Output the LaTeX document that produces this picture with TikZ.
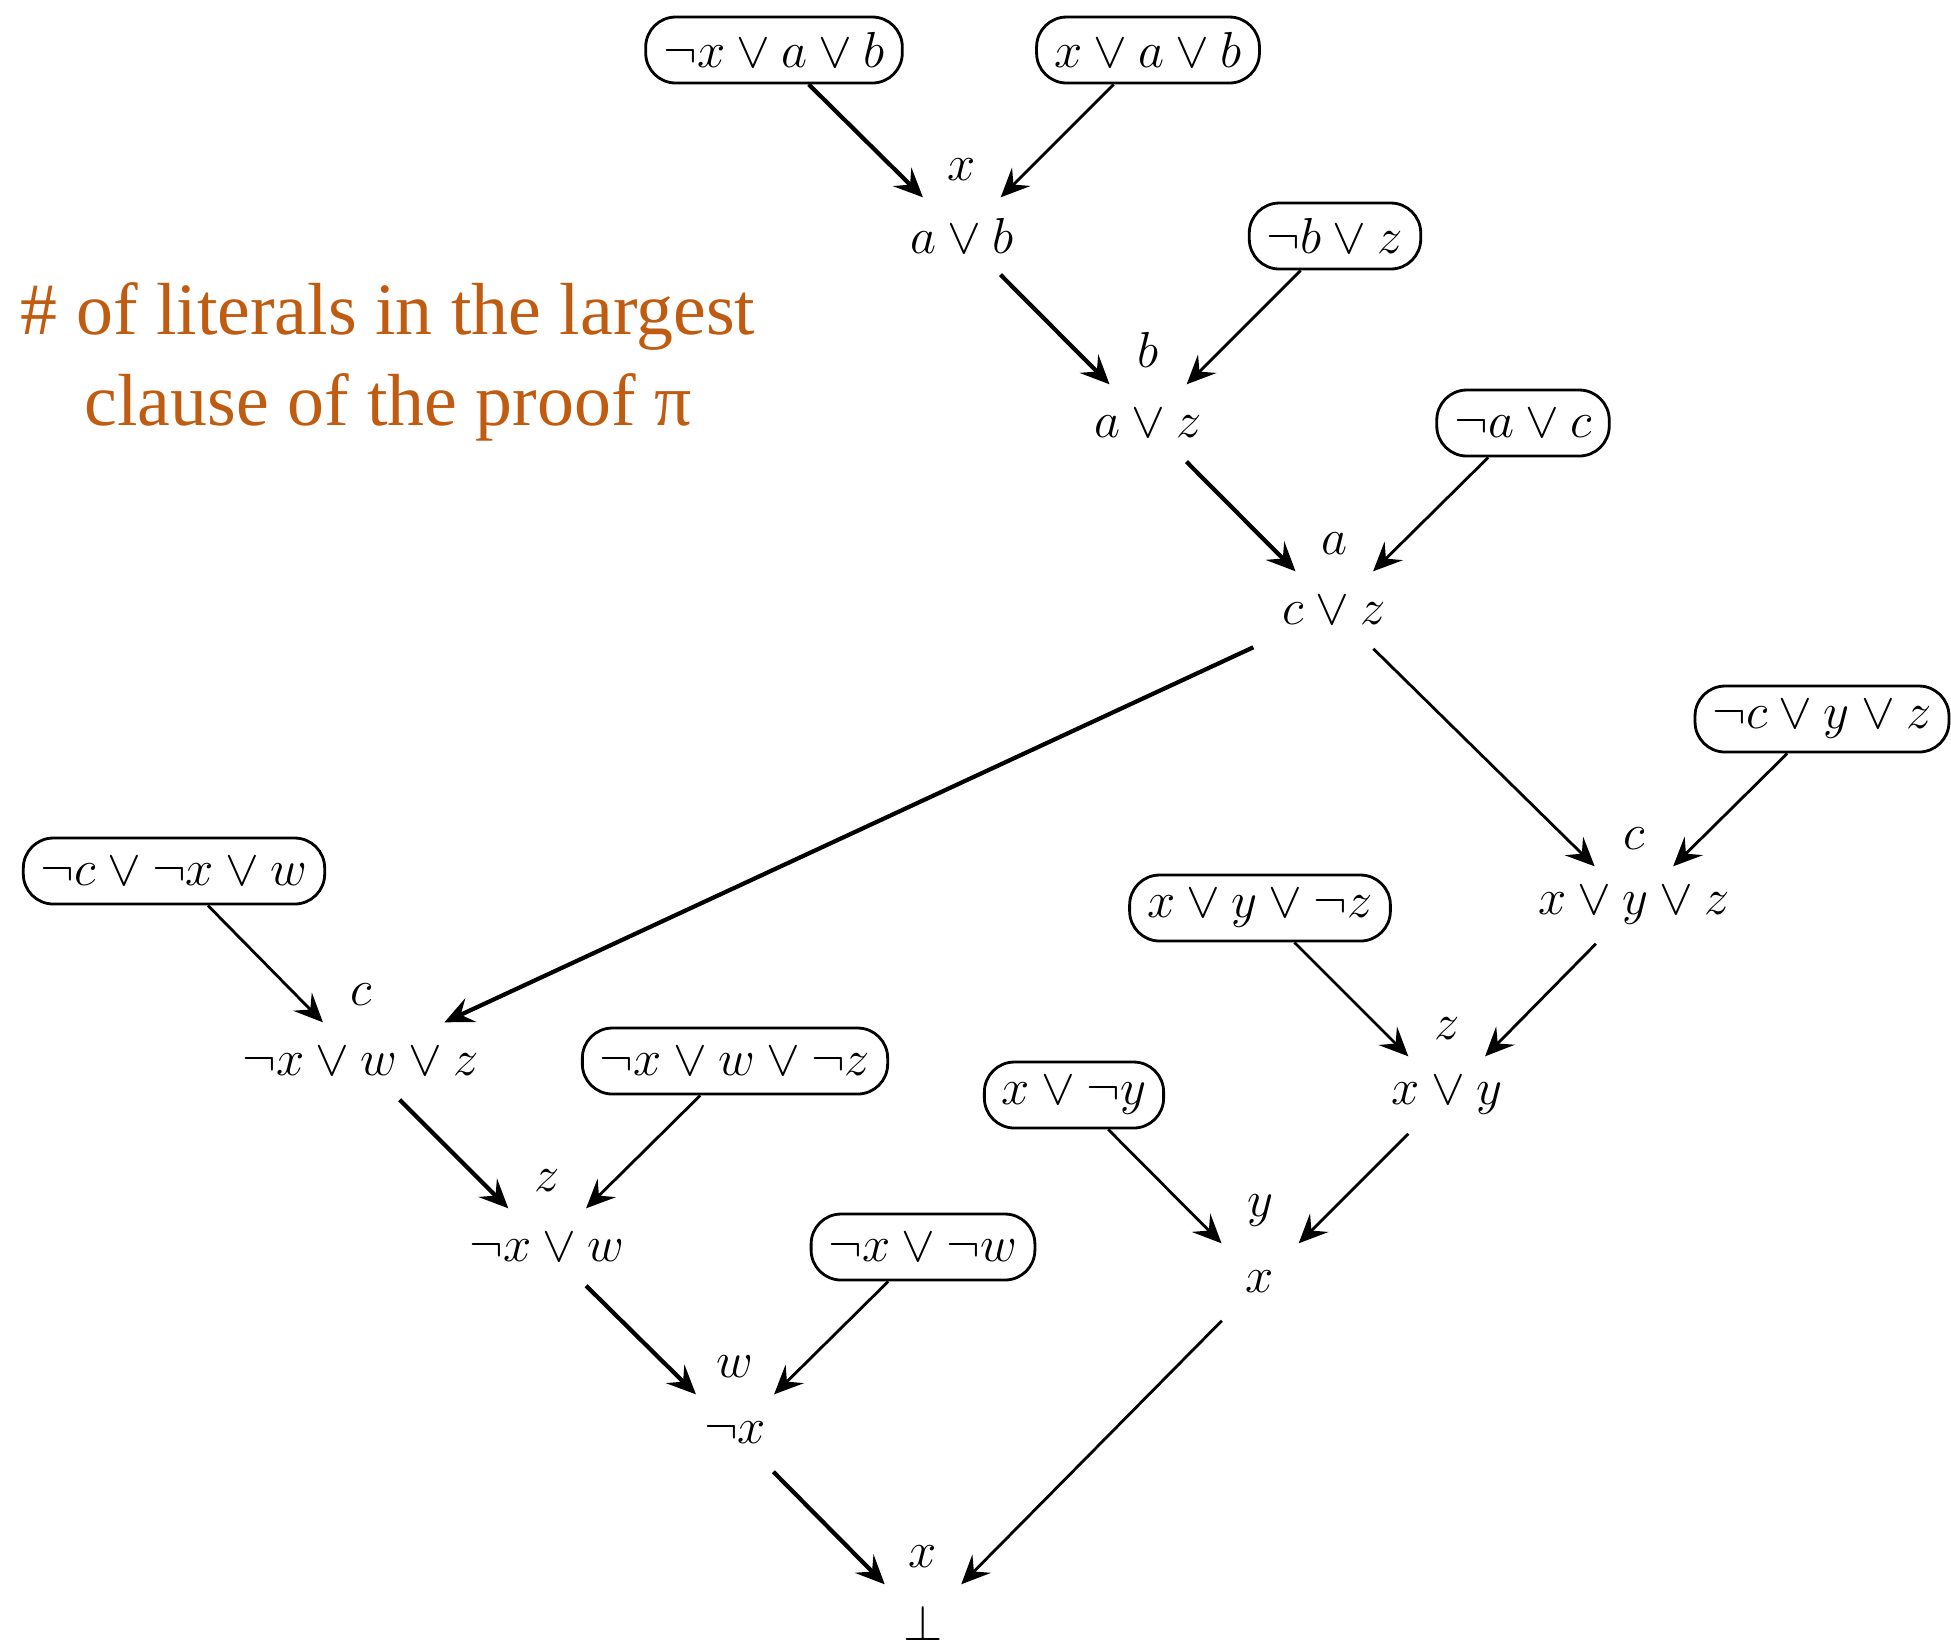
\documentclass[tikz,border=0pt]{standalone}
\usepackage{amsmath,amssymb}
\usepackage{fontspec}
\newfontfamily\notefont{Liberation Serif}
\usetikzlibrary{arrows.meta}
\definecolor{rust}{RGB}{192,92,18}

\begin{document}
\begin{tikzpicture}[
    font=\fontsize{15.4}{18}\selectfont,
    cl/.style={draw,rounded corners=3mm,line width=.8pt,minimum height=6.6mm,inner xsep=5pt},
    rs/.style={minimum width=16mm,minimum height=7.6mm,inner sep=0pt},
    pv/.style={inner sep=0pt,label distance=1.6mm},
    e/.style={-{Stealth[length=2.9mm,width=2.6mm,inset=1.1mm]},line width=.8pt},
    eb/.style={e,line width=1.2pt}
  ]
    \useasboundingbox (0,0) rectangle (19.51,-16.41);
    % input clauses (boxed) and resolvents with their pivot on top
    \node[cl] (c1) at (7.74,-0.50) {$\neg x\lor a\lor b$};
    \node[cl] (c2) at (11.48,-0.50) {$x\lor a\lor b$};
    \node[rs,label={[pv]above:$x$}] (r1) at (9.62,-2.36) {$a\lor b$};
    \node[cl] (c3) at (13.35,-2.36) {$\neg b\lor z$};
    \node[rs,label={[pv]above:$b$}] (r2) at (11.48,-4.23) {$a\lor z$};
    \node[cl] (c4) at (15.23,-4.23) {$\neg a\lor c$};
    \node[rs,label={[pv]above:$a$}] (r3) at (13.34,-6.10) {$c\lor z$};
    \node[cl] (c5) at (18.22,-7.19) {$\neg c\lor y\lor z$};
    \node[rs,label={[pv]above:$c$}] (r4) at (16.34,-9.05) {$x\lor y\lor z$};
    \node[cl] (c6) at (12.60,-9.08) {$x\lor y\lor\neg z$};
    \node[rs,label={[pv]above:$z$}] (r5) at (14.47,-10.95) {$x\lor y$};
    \node[cl] (c7) at (1.74,-8.71) {$\neg c\lor\neg x\lor w$};
    \node[rs,label={[pv]above:$c$}] (r6) at (3.61,-10.61) {$\neg x\lor w\lor z$};
    \node[cl] (c8) at (7.35,-10.61) {$\neg x\lor w\lor\neg z$};
    \node[rs,label={[pv]above:$z$}] (r7) at (5.47,-12.47) {$\neg x\lor w$};
    \node[cl] (c9) at (9.23,-12.47) {$\neg x\lor\neg w$};
    \node[rs,label={[pv]above:$w$}] (r8) at (7.35,-14.33) {$\neg x$};
    \node[cl] (c10) at (10.74,-10.95) {$x\lor\neg y$};
    \node[rs,label={[pv]above:$y$}] (r9) at (12.60,-12.82) {$x$};
    \node[rs,label={[pv]above:$x$}] (r10) at (9.23,-16.23) {$\bot$};
    % the widest branch is drawn heavier
    \foreach \s/\t in {c1/r1,r1/r2,r2/r3,r3/r6,r6/r7,r7/r8,r8/r10} {\draw[eb] (\s)--(\t);}
    \foreach \s/\t in {c2/r1,c3/r2,c4/r3,r3/r4,c5/r4,c6/r5,r4/r5,c7/r6,c8/r7,c9/r8,c10/r9,r5/r9,r9/r10} {\draw[e] (\s)--(\t);}
    \node[font=\notefont\fontsize{21}{25.8}\selectfont,text=rust,align=center] (note) at (3.88,-3.62)
      {\#\hspace{.25em}of literals in the largest\\clause of the proof π};
  \end{tikzpicture}
\end{document}
